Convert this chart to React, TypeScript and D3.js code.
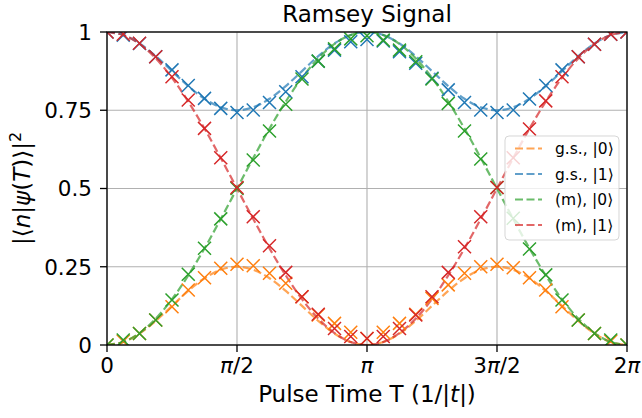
import React from "react";
import * as d3 from "d3";

// Pulse time in units of pi (step pi/16)
const pulseTimes = [
  0, 0.0625, 0.125, 0.1875, 0.25, 0.3125, 0.375, 0.4375, 0.5, 0.5625, 0.625, 0.6875, 0.75, 0.8125, 0.875, 0.9375,
  1, 1.0625, 1.125, 1.1875, 1.25, 1.3125, 1.375, 1.4375, 1.5, 1.5625, 1.625, 1.6875, 1.75, 1.8125, 1.875, 1.9375, 2,
];

// Dashed (theory) curves
const lineGs0 = [0, 0.0095, 0.0366, 0.0772, 0.125, 0.1728, 0.2134, 0.2405, 0.25, 0.2405, 0.2134, 0.1728, 0.125, 0.0772, 0.0366, 0.0095,
  0, 0.0095, 0.0366, 0.0772, 0.125, 0.1728, 0.2134, 0.2405, 0.25, 0.2405, 0.2134, 0.1728, 0.125, 0.0772, 0.0366, 0.0095, 0];
const lineGs1 = [1, 0.9905, 0.9634, 0.9228, 0.875, 0.8272, 0.7866, 0.7595, 0.75, 0.7595, 0.7866, 0.8272, 0.875, 0.9228, 0.9634, 0.9905,
  1, 0.9905, 0.9634, 0.9228, 0.875, 0.8272, 0.7866, 0.7595, 0.75, 0.7595, 0.7866, 0.8272, 0.875, 0.9228, 0.9634, 0.9905, 1];
const lineM0 = [0, 0.0096, 0.0381, 0.0843, 0.1464, 0.2222, 0.3087, 0.4025, 0.5, 0.5975, 0.6913, 0.7778, 0.8536, 0.9157, 0.9619, 0.9904,
  1, 0.9904, 0.9619, 0.9157, 0.8536, 0.7778, 0.6913, 0.5975, 0.5, 0.4025, 0.3087, 0.2222, 0.1464, 0.0843, 0.0381, 0.0096, 0];
const lineM1 = [1, 0.9904, 0.9619, 0.9157, 0.8536, 0.7778, 0.6913, 0.5975, 0.5, 0.4025, 0.3087, 0.2222, 0.1464, 0.0843, 0.0381, 0.0096,
  0, 0.0096, 0.0381, 0.0843, 0.1464, 0.2222, 0.3087, 0.4025, 0.5, 0.5975, 0.6913, 0.7778, 0.8536, 0.9157, 0.9619, 0.9904, 1];

// Measured points (x markers)
const ptsGs0 = [0, 0.012, 0.037, 0.08, 0.122, 0.176, 0.215, 0.245, 0.258, 0.253, 0.229, 0.197, 0.154, 0.096, 0.069, 0.041,
  0.021, 0.041, 0.069, 0.098, 0.149, 0.192, 0.229, 0.25, 0.258, 0.247, 0.215, 0.176, 0.122, 0.08, 0.037, 0.012, 0];
const ptsGs1 = [1, 0.99, 0.963, 0.921, 0.879, 0.829, 0.788, 0.756, 0.743, 0.751, 0.775, 0.809, 0.857, 0.907, 0.942, 0.969,
  0.976, 0.971, 0.937, 0.9, 0.852, 0.815, 0.775, 0.751, 0.743, 0.751, 0.786, 0.829, 0.879, 0.921, 0.961, 0.993, 1];
const ptsM0 = [0, 0.016, 0.037, 0.08, 0.144, 0.226, 0.309, 0.403, 0.5, 0.591, 0.684, 0.769, 0.85, 0.907, 0.946, 0.978,
  0.988, 0.974, 0.942, 0.905, 0.85, 0.772, 0.684, 0.594, 0.503, 0.405, 0.307, 0.224, 0.144, 0.08, 0.037, 0.016, 0];
const ptsM1 = [1, 0.993, 0.964, 0.921, 0.857, 0.783, 0.692, 0.598, 0.503, 0.41, 0.317, 0.232, 0.154, 0.098, 0.053, 0.027,
  0.021, 0.027, 0.053, 0.096, 0.154, 0.232, 0.314, 0.41, 0.503, 0.598, 0.69, 0.78, 0.857, 0.921, 0.961, 0.993, 1];

const seriesNames = ["g.s., |0⟩", "g.s., |1⟩", "(m), |0⟩", "(m), |1⟩"];
const seriesColors = ["#ff7f0e", "#1f77b4", "#2ca02c", "#d62728"];
const seriesLines = [lineGs0, lineGs1, lineM0, lineM1];
const seriesPts = [ptsGs0, ptsGs1, ptsM0, ptsM1];

const xTicks = [0, 0.5, 1, 1.5, 2];
const xTickLabels: [string, string, string][] = [["0", "", ""], ["", "π", "/2"], ["", "π", ""], ["3", "π", "/2"], ["2", "π", ""]];
const yTicks = [0, 0.25, 0.5, 0.75, 1];
const yTickLabels = ["0", "0.25", "0.5", "0.75", "1"];

const W = 642, H = 418;
const L = 107, R = 627, T = 32, B = 345;
const FONT = "DejaVu Sans";

export default function App() {
  const x = d3.scaleLinear().domain([0, 2]).range([L, R]);
  const y = d3.scaleLinear().domain([0, 1]).range([B, T]);
  const line = d3.line<number>().x((_, i) => x(pulseTimes[i])).y((d) => y(d)).curve(d3.curveCatmullRom);
  const s = 6.5;
  const xPath = `M${-s},${-s}L${s},${s}M${-s},${s}L${s},${-s}`;

  const legX = 505, legY = 136, legW = 114, legH = 104;
  const rowY = [148.5, 174, 199.5, 225];

  return (
    <svg width={W} height={H} style={{ display: "block", position: "absolute", left: 0, top: 0 }} fontFamily={FONT}>
      <rect width={W} height={H} fill="#fff" />
      <defs>
        <clipPath id="plotclip">
          <rect x={L} y={T} width={R - L} height={B - T} />
        </clipPath>
      </defs>
      {/* grid */}
      {xTicks.map((t, i) => (
        <line key={"gx" + i} x1={x(t)} x2={x(t)} y1={T} y2={B} stroke="#b0b0b0" strokeWidth={1.1} />
      ))}
      {yTicks.map((t, i) => (
        <line key={"gy" + i} x1={L} x2={R} y1={y(t)} y2={y(t)} stroke="#b0b0b0" strokeWidth={1.1} />
      ))}
      <g clipPath="url(#plotclip)">
        {seriesLines.map((vals, k) => (
          <path key={"l" + k} d={line(vals) || ""} fill="none" stroke={seriesColors[k]} strokeWidth={2.2}
            strokeDasharray="8,3.5" opacity={0.7} />
        ))}
        {seriesPts.map((vals, k) => (
          <g key={"p" + k}>
            {vals.map((v, i) => (
              <path key={i} d={xPath} transform={`translate(${x(pulseTimes[i])},${y(v)})`} stroke={seriesColors[k]}
                strokeWidth={1.5} fill="none" />
            ))}
          </g>
        ))}
      </g>
      {/* spines */}
      <rect x={L} y={T} width={R - L} height={B - T} fill="none" stroke="#000" strokeWidth={1.3} />
      {/* x ticks */}
      {xTicks.map((t, i) => (
        <g key={"xt" + i}>
          <line x1={x(t)} x2={x(t)} y1={B} y2={B + 7} stroke="#000" strokeWidth={1.3} />
          <text x={x(t)} y={373} textAnchor="middle" fontSize={21.5} fill="#000">
            {xTickLabels[i][0]}
            {xTickLabels[i][1] && <tspan fontStyle="italic">{xTickLabels[i][1]}</tspan>}
            {xTickLabels[i][2]}
          </text>
        </g>
      ))}
      {/* y ticks */}
      {yTicks.map((t, i) => (
        <g key={"yt" + i}>
          <line x1={L - 7} x2={L} y1={y(t)} y2={y(t)} stroke="#000" strokeWidth={1.3} />
          <text x={92} y={y(t) + 7.8} textAnchor="end" fontSize={21.5} fill="#000">{yTickLabels[i]}</text>
        </g>
      ))}
      {/* title */}
      <text x={(L + R) / 2} y={21.5} textAnchor="middle" fontSize={23} fill="#000">Ramsey Signal</text>
      {/* x label */}
      <text x={(L + R) / 2} y={402} textAnchor="middle" fontSize={23} fill="#000">
        Pulse Time T (1/|<tspan fontStyle="italic">t</tspan>|)
      </text>
      {/* y label */}
      <text transform={`translate(30,${(T + B) / 2}) rotate(-90)`} textAnchor="middle" fontSize={23} fill="#000">
        |⟨<tspan fontStyle="italic">n</tspan>|<tspan fontStyle="italic">ψ</tspan>(<tspan fontStyle="italic">T</tspan>)⟩|
        <tspan fontSize={16} dy={-9}>2</tspan>
      </text>
      {/* legend */}
      <rect x={legX} y={legY} width={legW} height={legH} rx={4} fill="#fff" fillOpacity={0.8} stroke="#cccccc" strokeOpacity={0.8} />
      {seriesNames.map((nm, k) => (
        <g key={"lg" + k}>
          <line x1={515} x2={542} y1={rowY[k]} y2={rowY[k]} stroke={seriesColors[k]} strokeWidth={2.2}
            strokeDasharray="8,3.5" opacity={0.7} />
          <text x={555} y={rowY[k] + 5.5} fontSize={15.5} fill="#000">{nm}</text>
        </g>
      ))}
    </svg>
  );
}
